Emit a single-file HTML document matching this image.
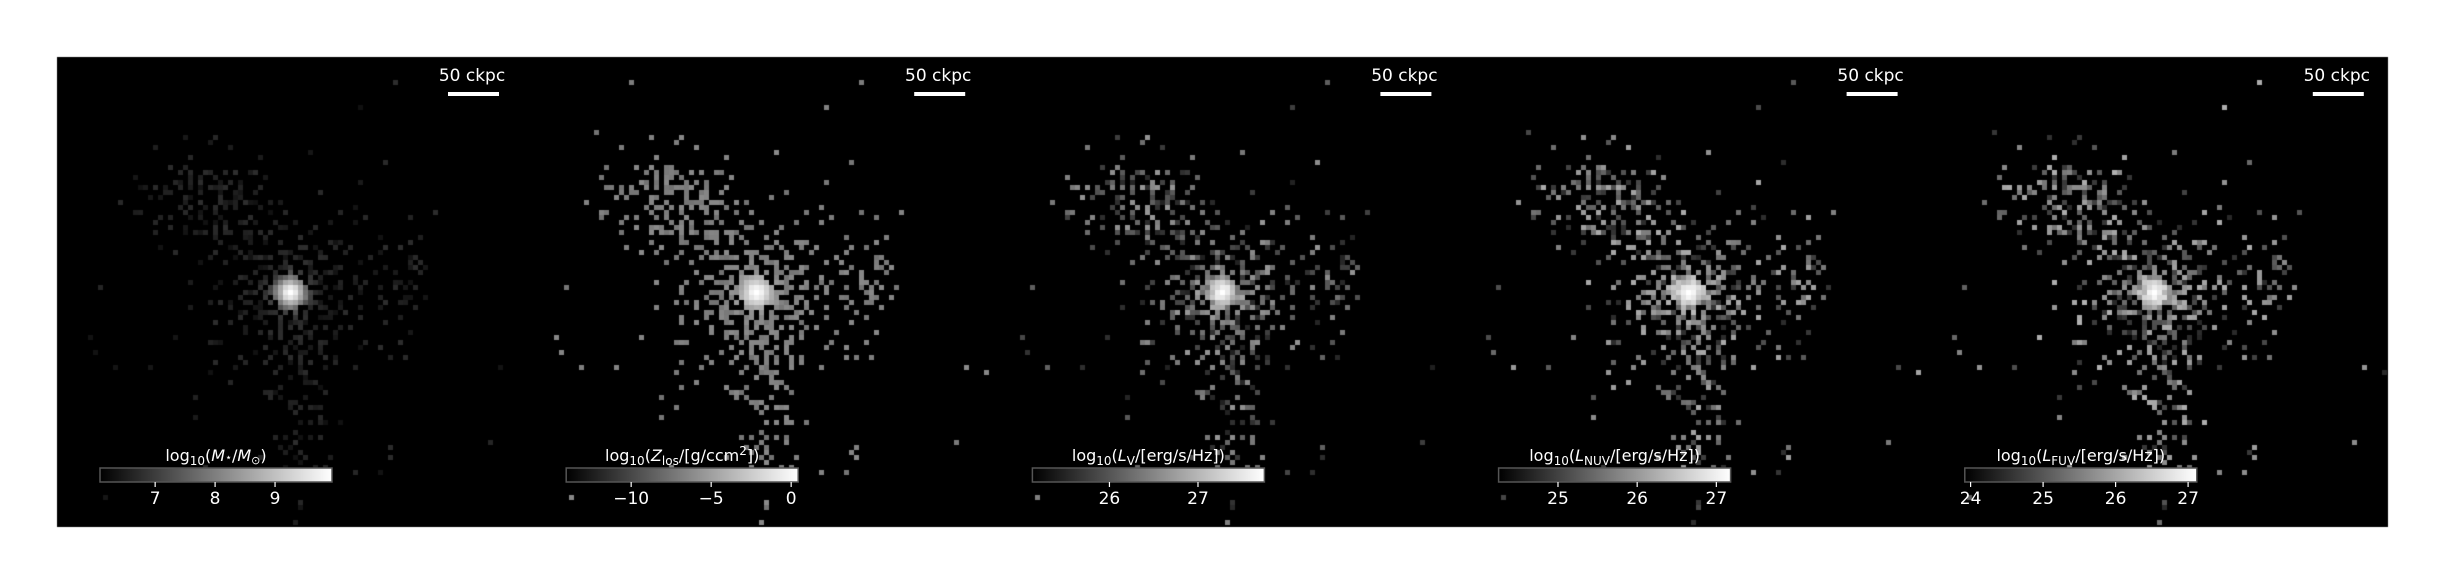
<!DOCTYPE html>
<html><head><meta charset="utf-8"><style>
html,body{margin:0;padding:0;background:#fff;width:2444px;height:584px;overflow:hidden}
#wrap{position:relative;width:2444px;height:584px}
canvas{position:absolute;left:0;top:0}
svg{position:absolute;left:0;top:0}
text{font-family:"DejaVu Sans","Liberation Sans",sans-serif;fill:#fff}
</style></head><body>
<div id="wrap">
<canvas id="cv" width="2444" height="584"></canvas>
<svg id="ov" width="2444" height="584"></svg>
</div>
<script>
// Panel data
const panelTitles = ["log10(M*/Msun)","log10(Z_los/[g/ccm2])","log10(L_V/[erg/s/Hz])","log10(L_NUV/[erg/s/Hz])","log10(L_FUV/[erg/s/Hz])"];
const cbMin = [6.08, -14.06, 25.13, 24.25, 23.92];
const cbMax = [9.95, 0.44, 27.75, 27.18, 27.12];
const cbTicks = [[7,8,9],[-10,-5,0],[26,27],[25,26,27],[24,25,26,27]];
const cbTickLabels = [["7","8","9"],["\u221210","\u22125","0"],["26","27"],["25","26","27"],["24","25","26","27"]];
// density model components (dx, dy, sx, sy, weight) in px relative to panel centre
const compDx = [0, 0, -80, 110, 5, 40, 0];
const compDy = [0, 0, -95, 5, 90, 165, 0];
const compSx = [12, 45, 35, 20, 18, 35, 160];
const compSy = [12, 45, 25, 28, 35, 20, 160];
const compW  = [1.0, 0.6, 0.55, 0.3, 0.4, 0.12, 0.012];
// per-panel occupancy gain, base gray, gray spread
const occGain = [0.75, 0.9, 0.8, 0.85, 0.85];
const baseGray = [30, 125, 85, 100, 100];
const spreadGray = [30, 25, 120, 130, 140];

const X0=57, Y0=57, PW=466.2, PH=470, CELL=5;
const cv=document.getElementById('cv'), ctx=cv.getContext('2d');
ctx.fillStyle='#000'; ctx.fillRect(X0,Y0,PW*5,PH);
function hash(i,j,s){let h=(i*374761393+j*668265263+s*982451653)|0;h=(h^(h>>>13))*1274126177|0;h^=h>>>16;return (h>>>0)/4294967296;}
function dens(x,y){let f=0;for(let k=0;k<compW.length;k++){const dx=(x-compDx[k])/compSx[k],dy=(y-compDy[k])/compSy[k];f+=compW[k]*Math.exp(-0.5*(dx*dx+dy*dy));}return f;}
for(let p=0;p<5;p++){
  const cx=X0+PW*p+PW/2, cy=Y0+PH/2;
  for(let i=-46;i<=46;i++)for(let j=-46;j<=46;j++){
    const x=i*CELL, y=j*CELL;
    const f=dens(x,y);
    const core=Math.exp(-0.5*(x*x+y*y)/(11*11));
    const pr=Math.max(core>0.3?1:0,Math.min(0.55,occGain[p]*f));
    if(hash(i,j,7)>=pr) continue;
    let g=baseGray[p]+spreadGray[p]*(hash(i,j,11+p)-0.45);
    g=g*(1-core)+255*core;
    g=Math.max(12,Math.min(255,g));
    ctx.fillStyle=`rgb(${g|0},${g|0},${g|0})`;
    ctx.fillRect(Math.round(cx+x-CELL/2),Math.round(cy+y-CELL/2),CELL,CELL);
  }
}
const NS='http://www.w3.org/2000/svg', ov=document.getElementById('ov');
function el(t,a,parent){const e=document.createElementNS(NS,t);for(const k in a)e.setAttribute(k,a[k]);(parent||ov).appendChild(e);return e;}
const defs=el('defs',{});
const lg=el('linearGradient',{id:'gr',x1:0,x2:1,y1:0,y2:0},defs);
el('stop',{offset:0,'stop-color':'#000'},lg);el('stop',{offset:1,'stop-color':'#fff'},lg);
const titleHTML=[
 '<tspan>log</tspan><tspan font-size="12" dy="4">10</tspan><tspan dy="-4">(</tspan><tspan font-style="italic">M</tspan><tspan font-size="11">⋆</tspan><tspan>/</tspan><tspan font-style="italic">M</tspan><tspan font-size="11" dy="3">⊙</tspan><tspan dy="-3">)</tspan>',
 '<tspan>log</tspan><tspan font-size="12" dy="4">10</tspan><tspan dy="-4">(</tspan><tspan font-style="italic">Z</tspan><tspan font-size="12" dy="4">los</tspan><tspan dy="-4">/[g/ccm</tspan><tspan font-size="12" dy="-6">2</tspan><tspan dy="6">])</tspan>',
 '<tspan>log</tspan><tspan font-size="12" dy="4">10</tspan><tspan dy="-4">(</tspan><tspan font-style="italic">L</tspan><tspan font-size="12" dy="4">V</tspan><tspan dy="-4">/[erg/s/Hz])</tspan>',
 '<tspan>log</tspan><tspan font-size="12" dy="4">10</tspan><tspan dy="-4">(</tspan><tspan font-style="italic">L</tspan><tspan font-size="12" dy="4">NUV</tspan><tspan dy="-4">/[erg/s/Hz])</tspan>',
 '<tspan>log</tspan><tspan font-size="12" dy="4">10</tspan><tspan dy="-4">(</tspan><tspan font-style="italic">L</tspan><tspan font-size="12" dy="4">FUV</tspan><tspan dy="-4">/[erg/s/Hz])</tspan>'
];
for(let p=0;p<5;p++){
  const px=X0+PW*p;
  const g=el('g',{});
  
  
  const sbt=el('text',{x:px+415,y:81,'font-size':17,'text-anchor':'middle'},g);
  sbt.textContent='50 ckpc';
  
  
  const sb=el('rect',{x:px+391,y:92,width:51,height:4,fill:'#fff'},g);
  
  
  const bx=px+43, bw=232, by=468, bh=14;
  const cb=el('rect',{x:bx,y:by,width:bw,height:bh,fill:'url(#gr)',stroke:'#555','stroke-width':1.5},g);
  
  
  const sc=v=>bx+(v-cbMin[p])/(cbMax[p]-cbMin[p])*bw;
  cbTicks[p].forEach((v,k)=>{
    const t=el('line',{x1:sc(v),x2:sc(v),y1:by+bh,y2:by+bh+5,stroke:'#fff','stroke-width':1.2},g);
    
    
    const l=el('text',{x:sc(v),y:504,'font-size':17,'text-anchor':'middle'},g);
    l.textContent=cbTickLabels[p][k];
    
    
  });
  const tt=el('text',{x:bx+bw/2,y:461,'font-size':16,'text-anchor':'middle'},g);
  tt.innerHTML=titleHTML[p];
  
  
  tt.setAttribute('aria-label',panelTitles[p]);
}
</script>
</body></html>
